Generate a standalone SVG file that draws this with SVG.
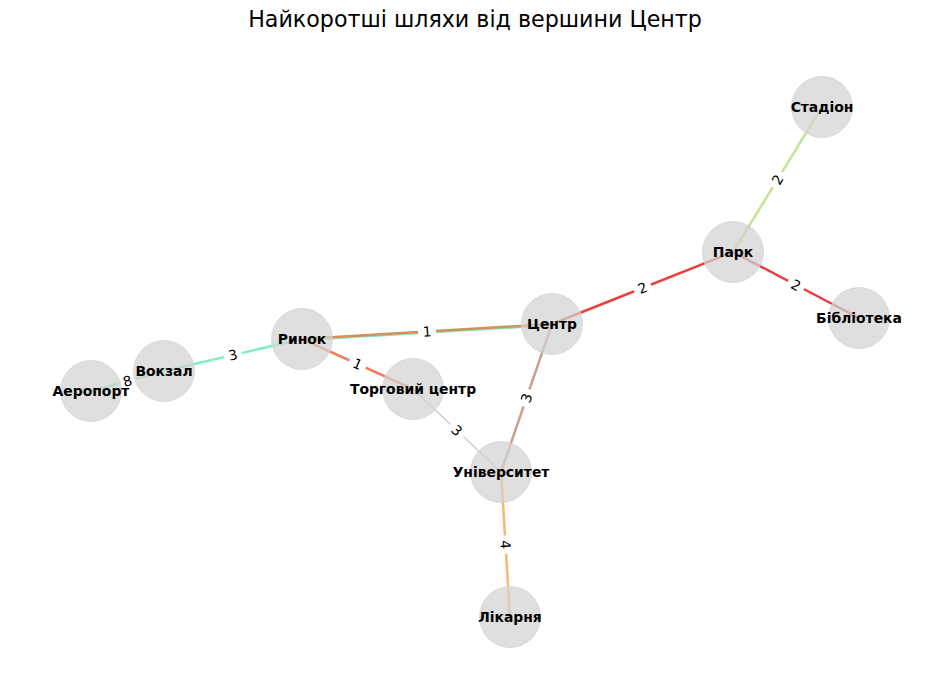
<svg xmlns="http://www.w3.org/2000/svg" width="950" height="680" viewBox="0 0 950 680">
<style>
.e{fill:none;stroke-width:2.5;stroke-linecap:butt}
.n{fill:#d3d3d3;fill-opacity:0.72;stroke:#d3d3d3;stroke-opacity:0.72}
.nl{font-family:"DejaVu Sans",sans-serif;font-weight:bold;font-size:13.9px;text-anchor:middle;fill:#000}
.wl{font-family:"DejaVu Sans",sans-serif;font-size:13.9px;text-anchor:middle;fill:#000}
.wb{fill:#fff}
.t{font-family:"DejaVu Sans",sans-serif;font-size:22.2px;text-anchor:middle;fill:#000}
</style>
<rect width="950" height="680" fill="#fff"/>
<text class="t" x="475" y="26.5">Найкоротші шляхи від вершини Центр</text>
<g id="connectors">
<line class="e" x1="91" y1="391" x2="164" y2="371" stroke="#80f0c0"/>
<line class="e" x1="164" y1="371" x2="302" y2="339" stroke="#80f0c0"/>
<line class="e" x1="302" y1="340" x2="552" y2="325" stroke="#80e8b8"/>
<line class="e" x1="302" y1="339" x2="552" y2="324" stroke="#d4905a"/>
<line class="e" x1="302" y1="339" x2="413" y2="389" stroke="#f08060"/>
<line class="e" x1="413" y1="389" x2="501" y2="472" stroke="#cccccc" style="stroke-width:1.3"/>
<line class="e" x1="552" y1="324" x2="501" y2="472" stroke="#c8a090"/>
<line class="e" x1="501" y1="472" x2="510" y2="617" stroke="#f8b870"/>
<line class="e" x1="552" y1="324" x2="733" y2="252" stroke="#e84040"/>
<line class="e" x1="733" y1="252" x2="859" y2="318" stroke="#e84040"/>
<line class="e" x1="733" y1="252" x2="822" y2="107" stroke="#c4e49a"/>
</g>
<g id="edge-labels">
<g transform="translate(127.5,381) rotate(-15.3)"><rect class="wb" x="-9" y="-10" width="18" height="20" rx="3"/><text class="wl" y="5">8</text></g>
<g transform="translate(233,355) rotate(-13)"><rect class="wb" x="-9" y="-10" width="18" height="20" rx="3"/><text class="wl" y="5">3</text></g>
<g transform="translate(427,331.5) rotate(-3.4)"><rect class="wb" x="-9" y="-10" width="18" height="20" rx="3"/><text class="wl" y="5">1</text></g>
<g transform="translate(357.5,364) rotate(24.2)"><rect class="wb" x="-9" y="-10" width="18" height="20" rx="3"/><text class="wl" y="5">1</text></g>
<g transform="translate(457,430.5) rotate(43.3)"><rect class="wb" x="-9" y="-10" width="18" height="20" rx="3"/><text class="wl" y="5">3</text></g>
<g transform="translate(526.5,398) rotate(-71)"><rect class="wb" x="-9" y="-10" width="18" height="20" rx="3"/><text class="wl" y="5">3</text></g>
<g transform="translate(505.5,544.5) rotate(86.4)"><rect class="wb" x="-9" y="-10" width="18" height="20" rx="3"/><text class="wl" y="5">4</text></g>
<g transform="translate(642.5,288) rotate(-21.7)"><rect class="wb" x="-9" y="-10" width="18" height="20" rx="3"/><text class="wl" y="5">2</text></g>
<g transform="translate(796,285) rotate(27.6)"><rect class="wb" x="-9" y="-10" width="18" height="20" rx="3"/><text class="wl" y="5">2</text></g>
<g transform="translate(777.5,179.5) rotate(-58.5)"><rect class="wb" x="-9" y="-10" width="18" height="20" rx="3"/><text class="wl" y="5">2</text></g>
</g>
<g id="node-stadion"><circle class="n" cx="822" cy="107" r="30.5"/><text class="nl" x="822" y="112">Стадіон</text></g>
<g id="node-park"><circle class="n" cx="733" cy="252" r="30.5"/><text class="nl" x="733" y="257">Парк</text></g>
<g id="node-biblioteka"><circle class="n" cx="859" cy="318" r="30.5"/><text class="nl" x="859" y="323">Бібліотека</text></g>
<g id="node-tsentr"><circle class="n" cx="552" cy="324" r="30.5"/><text class="nl" x="552" y="329">Центр</text></g>
<g id="node-rynok"><circle class="n" cx="302" cy="339" r="30.5"/><text class="nl" x="302" y="344">Ринок</text></g>
<g id="node-torgovyi"><circle class="n" cx="413" cy="389" r="30.5"/><text class="nl" x="413" y="394">Торговий центр</text></g>
<g id="node-universytet"><circle class="n" cx="501" cy="472" r="30.5"/><text class="nl" x="501" y="477">Університет</text></g>
<g id="node-likarnia"><circle class="n" cx="510" cy="617" r="30.5"/><text class="nl" x="510" y="622">Лікарня</text></g>
<g id="node-vokzal"><circle class="n" cx="164" cy="371" r="30.5"/><text class="nl" x="164" y="376">Вокзал</text></g>
<g id="node-aeroport"><circle class="n" cx="91" cy="391" r="30.5"/><text class="nl" x="91" y="396">Аеропорт</text></g>
</svg>
